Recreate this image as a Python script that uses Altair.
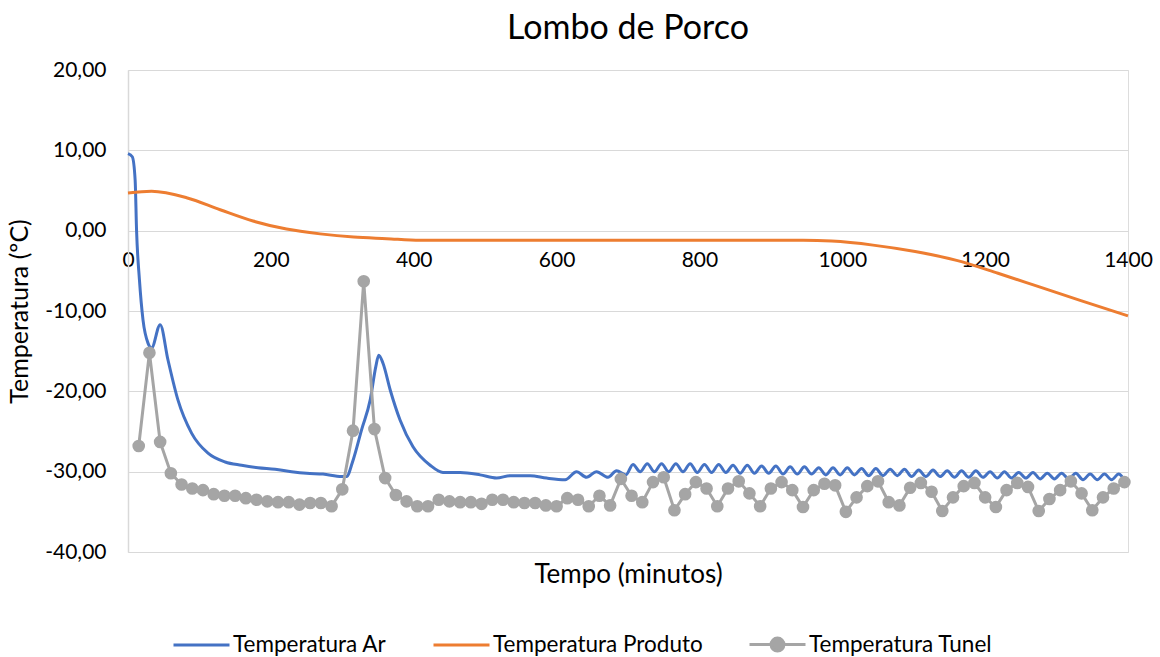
import altair as alt
import pandas as pd

# ---------------- data ----------------
S_AR = "Temperatura Ar"
S_PROD = "Temperatura Produto"
S_TUN = "Temperatura Tunel"

ar_x = [0, 6, 10, 12, 16, 21, 28, 33, 45, 56, 70, 89, 112, 136, 159, 182, 206, 229,
        250, 273, 299, 306, 315, 327, 339, 347, 351, 357, 367, 381, 399, 423, 441,
        465, 493, 516, 535, 563, 586, 612, 628, 642, 656, 672, 684, 697,
        707, 717, 727, 737, 747, 757, 767, 777, 787, 797, 807, 817, 827, 837, 847,
        857, 867, 877, 887, 897, 907, 917, 927, 937, 947, 957, 967, 977, 987, 997,
        1007, 1017, 1027, 1037, 1047, 1057, 1067, 1077, 1087, 1097, 1107, 1117,
        1127, 1137, 1147, 1157, 1167, 1177, 1187, 1197, 1207, 1217, 1227, 1237,
        1247, 1257, 1267, 1277, 1287, 1297, 1307, 1317, 1327, 1337, 1347, 1357,
        1367, 1377, 1387, 1397, 1400]
ar_y = [9.6, 9.2, 6.3, 0.0, -6.1, -11.1, -14.0, -14.6, -11.7, -16.1, -21.1, -25.2,
        -27.7, -28.8, -29.2, -29.5, -29.7, -30.0, -30.2, -30.3, -30.6, -30.6, -28.6,
        -24.8, -21.1, -16.9, -15.5, -16.5, -19.8, -23.6, -26.9, -29.2, -30.1,
        -30.1, -30.4, -30.8, -30.5, -30.5, -30.8, -31.0, -30.0, -30.7, -30.0, -30.7,
        -29.9, -30.4,
        -29.1, -30.0, -29.0, -30.0, -29.0, -30.0, -29.0, -30.0, -29.0, -30.1, -29.1,
        -30.1, -29.1, -30.1, -29.2, -30.2, -29.2, -30.2, -29.3, -30.2, -29.3, -30.3,
        -29.4, -30.3, -29.4, -30.3, -29.5, -30.4, -29.5, -30.4, -29.5, -30.4, -29.6,
        -30.5, -29.6, -30.5, -29.7, -30.5, -29.7, -30.6, -29.8, -30.6, -29.8, -30.6,
        -29.9, -30.7, -29.9, -30.7, -29.9, -30.7, -30.0, -30.8, -30.0, -30.8, -30.1,
        -30.8, -30.1, -30.9, -30.2, -30.9, -30.2, -30.9, -30.2, -31.0, -30.3, -31.0,
        -30.3, -31.0, -30.3, -31.0, -30.9]

prod_x = [0, 33, 82, 129, 175, 222, 269, 316, 362, 409, 500, 600, 700, 800, 900,
          945, 985, 1043, 1102, 1160, 1218, 1276, 1334, 1400]
prod_y = [4.7, 4.9, 4.1, 2.6, 1.2, 0.2, -0.4, -0.8, -1.0, -1.2, -1.2, -1.2, -1.2,
          -1.2, -1.2, -1.2, -1.3, -1.8, -2.6, -3.7, -5.3, -7.0, -8.7, -10.6]

tunel_x = [15, 30, 45, 60, 75, 90, 105, 120, 135, 150, 165, 180, 195, 210, 225, 240,
           255, 270, 285, 300, 315, 330, 345, 360, 375, 390, 405, 420, 435, 450, 465,
           480, 495, 510, 525, 540, 555, 570, 585, 600, 615, 630, 645, 660, 675, 690,
           705, 720, 735, 750, 765, 780, 795, 810, 825, 840, 855, 870, 885, 900, 915,
           930, 945, 960, 975, 990, 1005, 1020, 1035, 1050, 1065, 1080, 1095, 1110,
           1125, 1140, 1155, 1170, 1185, 1200, 1215, 1230, 1245, 1260, 1275, 1290,
           1305, 1320, 1335, 1350, 1365, 1380, 1395]
tunel_y = [-26.8, -15.2, -26.3, -30.2, -31.6, -32.1, -32.3, -32.8, -33.0, -33.0,
           -33.3, -33.5, -33.7, -33.8, -33.8, -34.1, -33.9, -33.9, -34.3, -32.2,
           -24.9, -6.3, -24.7, -30.8, -32.9, -33.7, -34.3, -34.3, -33.5, -33.7,
           -33.8, -33.8, -34.0, -33.5, -33.5, -33.8, -33.9, -33.9, -34.2, -34.3,
           -33.3, -33.5, -34.3, -33.0, -34.2, -30.9, -33.0, -33.8, -31.3, -30.7,
           -34.8, -32.8, -31.3, -32.1, -34.3, -32.1, -31.2, -32.7, -34.3, -32.1,
           -31.3, -32.3, -34.4, -32.3, -31.5, -31.7, -35.0, -33.2, -31.8, -31.2,
           -33.8, -34.2, -32.0, -31.4, -32.5, -34.9, -33.2, -31.8, -31.4, -33.2,
           -34.4, -32.3, -31.4, -31.9, -34.9, -33.4, -32.3, -31.2, -32.7, -34.8,
           -33.2, -32.1, -31.3]

series_names = [S_AR, S_PROD, S_TUN]
series_colors = ["#4472C4", "#ED7D31", "#A5A5A5"]
legend_fills = ["transparent", "transparent", "#A5A5A5"]
y_ticks = [-40, -30, -20, -10, 0, 10, 20]
x_ticks = [0, 200, 400, 600, 800, 1000, 1200, 1400]

smooth_df = pd.concat([
    pd.DataFrame({"t": ar_x, "v": ar_y, "s": S_AR}),
    pd.DataFrame({"t": prod_x, "v": prod_y, "s": S_PROD}),
], ignore_index=True)
tunel_df = pd.DataFrame({"t": tunel_x, "v": tunel_y, "s": S_TUN})
all_df = pd.concat([smooth_df, tunel_df], ignore_index=True)

# ---------------- styling ----------------
FONT = "Lato"
GRID = "#d9d9d9"
TXT = "#000000"
W, H = 1000, 482

xscale = alt.Scale(domain=[0, 1400], nice=False, zero=False)
yscale = alt.Scale(domain=[-40, 20], nice=False, zero=False)

y_enc = alt.Y(
    "v:Q", scale=yscale,
    axis=alt.Axis(
        values=y_ticks,
        labelExpr="(datum.value < 0 ? '-' : '') + replace(format(abs(datum.value), '.2f'), '.', ',')",
        title="Temperatura (ºC)", titleFont=FONT, titleFontSize=25, titleFontWeight="normal",
        titleColor=TXT, titlePadding=12,
        labelFont=FONT, labelFontSize=21, labelColor=TXT, labelPadding=22,
        ticks=False, grid=True, gridColor=GRID, gridWidth=1,
        domain=True, domainColor=GRID, domainWidth=1.5,
    ),
)

x_main = alt.X(
    "t:Q", scale=xscale,
    axis=alt.Axis(
        values=x_ticks, format="d", title=None, offset=-321, orient="bottom",
        labelFont=FONT, labelFontSize=21, labelColor=TXT, labelPadding=18,
        labelFlush=False, ticks=False, grid=False,
        domain=True, domainColor=GRID, domainWidth=1,
    ),
)
x_none = alt.X("t:Q", scale=xscale, axis=None)
x_title = alt.X(
    "t:Q", scale=xscale,
    axis=alt.Axis(
        title="Tempo (minutos)", titleFont=FONT, titleFontSize=26, orient="bottom",
        titleFontWeight="normal", titleColor=TXT, titlePadding=9,
        labels=False, ticks=False, domain=False, grid=False,
    ),
)

line_color = alt.Color("s:N", scale=alt.Scale(domain=series_names, range=series_colors),
                       legend=None)

tunel_path = "M-1,0L1,0M0.23,0A0.23,0.23,0,1,1,-0.23,0A0.23,0.23,0,1,1,0.23,0Z"
legend_kw = dict(
    title=None, orient="none", legendX=44, legendY=545, direction="horizontal",
    symbolSize=3136, symbolStrokeWidth=3, symbolOpacity=1,
    labelFont=FONT, labelFontSize=22.5, labelColor=TXT, labelOffset=2,
    labelLimit=500, columnPadding=40, padding=0,
)

smooth = alt.Chart(smooth_df).mark_line(interpolate="monotone", strokeWidth=3).encode(
    x=x_main, y=y_enc, color=line_color, order="t:Q"
)
tline = alt.Chart(tunel_df).mark_line(strokeWidth=3).encode(
    x=x_none, y=y_enc, color=line_color, order="t:Q"
)
tpts = alt.Chart(tunel_df).mark_circle(size=160, opacity=1, color="#A5A5A5").encode(
    x=x_title, y=y_enc
)
legend_layer = alt.Chart(all_df).mark_point(filled=True, opacity=0).encode(
    x=x_none, y=y_enc,
    stroke=alt.Stroke("s:N", scale=alt.Scale(domain=series_names, range=series_colors),
                      legend=alt.Legend(**legend_kw)),
    fill=alt.Fill("s:N", scale=alt.Scale(domain=series_names, range=legend_fills),
                  legend=alt.Legend(**legend_kw)),
    shape=alt.Shape("s:N", scale=alt.Scale(domain=series_names,
                                            range=["stroke", "stroke", tunel_path]),
                    legend=alt.Legend(**legend_kw)),
)

chart = alt.layer(legend_layer, smooth, tline, tpts).resolve_axis(x="independent").properties(
    width=W, height=H,
    title=alt.TitleParams("Lombo de Porco", font=FONT, fontSize=34, fontWeight="normal",
                          color=TXT, anchor="middle", frame="group", offset=13),
    autosize=alt.AutoSizeParams(type="none"),
    padding={"left": 128, "top": 70, "right": 32, "bottom": 105},
).configure_view(stroke=None).configure(background="white")

chart.save("out.html", embed_options={"renderer": "svg", "actions": False})
